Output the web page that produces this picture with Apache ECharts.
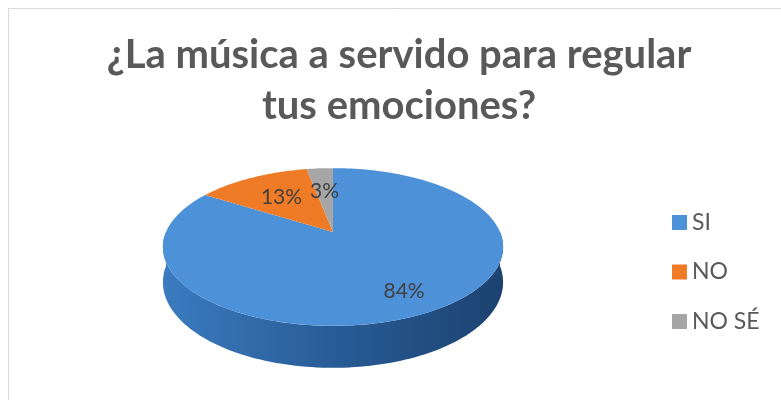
<!DOCTYPE html>
<html>
<head>
<meta charset="utf-8">
<script src="https://cdn.jsdelivr.net/npm/echarts@6/dist/echarts.min.js"></script>
<style>
  html, body { margin: 0; padding: 0; background: #ffffff; }
  #chart { width: 781px; height: 400px; }
</style>
</head>
<body>
<div id="chart"></div>
<script>
// Survey answers and their shares (percent)
const categories = ['SI', 'NO', 'NO SÉ'];
const shares = [84, 13, 3];

// Slice colours (top face) and side shading for the 3D disc
const topColors = ['#4d92d8', '#f07b26', '#a6a6a6'];
const sideColors = [
  ['#3b7bc0', '#285c96', '#1c4270'],
  ['#c45e15', '#a84f10', '#8a410c'],
  ['#8a8a8a', '#777777', '#636363']
];
const labelRadius = [0.77, 0.6, 0.6];

const FONT = 'Lato, "Open Sans", sans-serif';

// Perspective disc geometry
const CX = 333, CY = 232;   // projected centre of the disc
const A = 167, B = 76;      // horizontal / vertical radius scale
const K = 0.19;             // perspective strength (far side shrinks)
const DEPTH = 34;           // disc thickness

function proj(u, v, drop) {
  const w = 1 + K * v;
  return [CX + A * u / w, CY - B * v / w + drop / w];
}

const total = shares.reduce((s, x) => s + x, 0);
const startAngles = [];
let acc = 0;
shares.forEach(v => { startAngles.push(acc / total * 360); acc += v; });

function rad(d) { return d * Math.PI / 180; }

function arcPoints(a0, a1, drop) {
  const pts = [];
  const n = Math.max(2, Math.ceil(Math.abs(a1 - a0) / 1.5));
  for (let k = 0; k <= n; k++) {
    const t = rad(a0 + (a1 - a0) * k / n);
    pts.push(proj(Math.sin(t), Math.cos(t), drop));
  }
  return pts;
}

function makeRender(i) {
  return function (params, api) {
    const value = api.value(0);
    const a0 = startAngles[i];
    const a1 = a0 + value / total * 360;
    const children = [];

    // Visible front wall: the part of the rim between 90° and 270° (clockwise from top)
    const s0 = Math.max(a0, 90), s1 = Math.min(a1, 270);
    if (s1 > s0) {
      const topArc = arcPoints(s0, s1, 0);
      const botArc = arcPoints(s0, s1, DEPTH).reverse();
      children.push({
        type: 'polygon',
        shape: { points: topArc.concat(botArc) },
        style: {
          fill: new echarts.graphic.LinearGradient(0, 0, 1, 0, [
            { offset: 0, color: sideColors[i][0] },
            { offset: 0.5, color: sideColors[i][1] },
            { offset: 1, color: sideColors[i][2] }
          ], false)
        }
      });
    }

    // Top face of the slice
    const face = [proj(0, 0, 0)].concat(arcPoints(a0, a1, 0));
    children.push({
      type: 'polygon',
      shape: { points: face },
      style: { fill: topColors[i] }
    });

    // Percentage label
    const mid = rad((a0 + a1) / 2);
    const r = labelRadius[i];
    const p = proj(r * Math.sin(mid), r * Math.cos(mid), 0);
    children.push({
      type: 'text',
      x: p[0], y: p[1],
      style: {
        text: Math.round(value / total * 100) + '%',
        fill: '#404040',
        fontSize: 21,
        fontFamily: FONT,
        align: 'center',
        verticalAlign: 'middle'
      }
    });

    return { type: 'group', children };
  };
}

const chart = echarts.init(document.getElementById('chart'), null, { renderer: 'canvas' });

chart.setOption({
  animation: false,
  backgroundColor: '#ffffff',
  graphic: [{
    type: 'rect',
    shape: { x: 8.5, y: 8.5, width: 800, height: 420 },
    style: { fill: 'none', stroke: '#d9d9d9', lineWidth: 1 },
    silent: true
  }],
  title: {
    text: '¿La música a servido para regular\ntus emociones?',
    left: 399,
    top: 30,
    textAlign: 'center',
    padding: 0,
    textStyle: {
      fontFamily: FONT,
      fontWeight: 'bold',
      fontSize: 40,
      lineHeight: 51,
      color: '#595959'
    }
  },
  legend: {
    orient: 'vertical',
    left: 672,
    top: 211,
    padding: 0,
    itemWidth: 15,
    itemHeight: 15,
    itemGap: 26.5,
    icon: 'rect',
    selectedMode: false,
    data: categories,
    textStyle: { fontFamily: FONT, fontSize: 23, color: '#595959' }
  },
  series: categories.map((name, i) => ({
    type: 'custom',
    name: name,
    coordinateSystem: 'none',
    silent: true,
    itemStyle: { color: topColors[i] },
    data: [shares[i]],
    renderItem: makeRender(i)
  }))
});
</script>
</body>
</html>
